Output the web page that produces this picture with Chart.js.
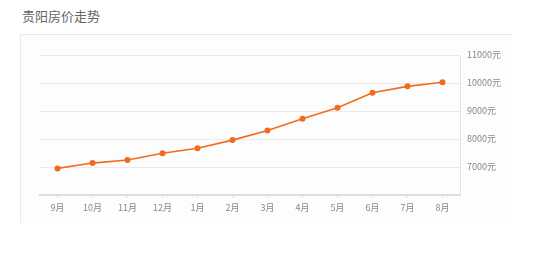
<!DOCTYPE html>
<html>
<head>
<meta charset="utf-8">
<script src="https://cdn.jsdelivr.net/npm/chart.js@4/dist/chart.umd.min.js"></script>
<style>
  body { margin: 0; background: #fff; font-family: "Noto Sans CJK SC", sans-serif; }
  #wrap { position: relative; width: 552px; height: 279px; overflow: hidden; }
  #title { position: absolute; left: 22px; top: 6px; font-size: 13px; color: #666; }
  #panel { position: absolute; left: 20px; top: 34px; width: 491px; height: 188px;
           border-left: 1px solid #e8e8e8; border-top: 1px solid #e8e8e8; background: #fdfdfe; }
  #c { position: absolute; left: 0; top: 0; }
</style>
</head>
<body>
<div id="wrap">
  <div id="title">贵阳房价走势</div>
  <div id="panel"></div>
  <canvas id="c" width="552" height="279"></canvas>
</div>
<script>
const months = ['9月', '10月', '11月', '12月', '1月', '2月', '3月', '4月', '5月', '6月', '7月', '8月'];
const prices = [6950, 7140, 7250, 7490, 7670, 7960, 8300, 8725, 9120, 9650, 9880, 10025];
const yMin = 6000;
const yMax = 11000;

const lineColor = '#f26b1d';

new Chart(document.getElementById('c'), {
    type: 'line',
    data: {
        labels: months,
        datasets: [{
            data: prices,
            borderColor: lineColor,
            backgroundColor: lineColor,
            borderWidth: 1.6,
            pointRadius: 3,
            pointBorderWidth: 0,
            tension: 0
        }]
    },
    options: {
        responsive: false,
        animation: false,
        layout: { padding: { left: 40, top: 55, right: 0, bottom: 0 } },
        plugins: { legend: { display: false }, tooltip: { enabled: false } },
        scales: {
            x: {
                offset: true,
                afterFit: (s) => { s.height = 84; },
                grid: { drawOnChartArea: false, drawTicks: true, tickLength: 3, color: '#e4e4e4' },
                border: { color: '#dedede', width: 2 },
                ticks: { color: '#888', font: { size: 9, family: 'Noto Sans CJK SC' }, padding: 4, maxRotation: 0 }
            },
            y: {
                position: 'right',
                min: yMin,
                max: yMax,
                afterFit: (s) => { s.width = 92; },
                grid: { color: '#ebebeb', drawTicks: false },
                border: { color: '#e4e4e4', width: 1 },
                ticks: {
                    stepSize: 1000,
                    padding: 7,
                    color: '#888',
                    font: { size: 9, family: 'Noto Sans CJK SC' },
                    callback: (v) => v === yMin ? '' : v + '元'
                }
            }
        }
    }
});
</script>
</body>
</html>
